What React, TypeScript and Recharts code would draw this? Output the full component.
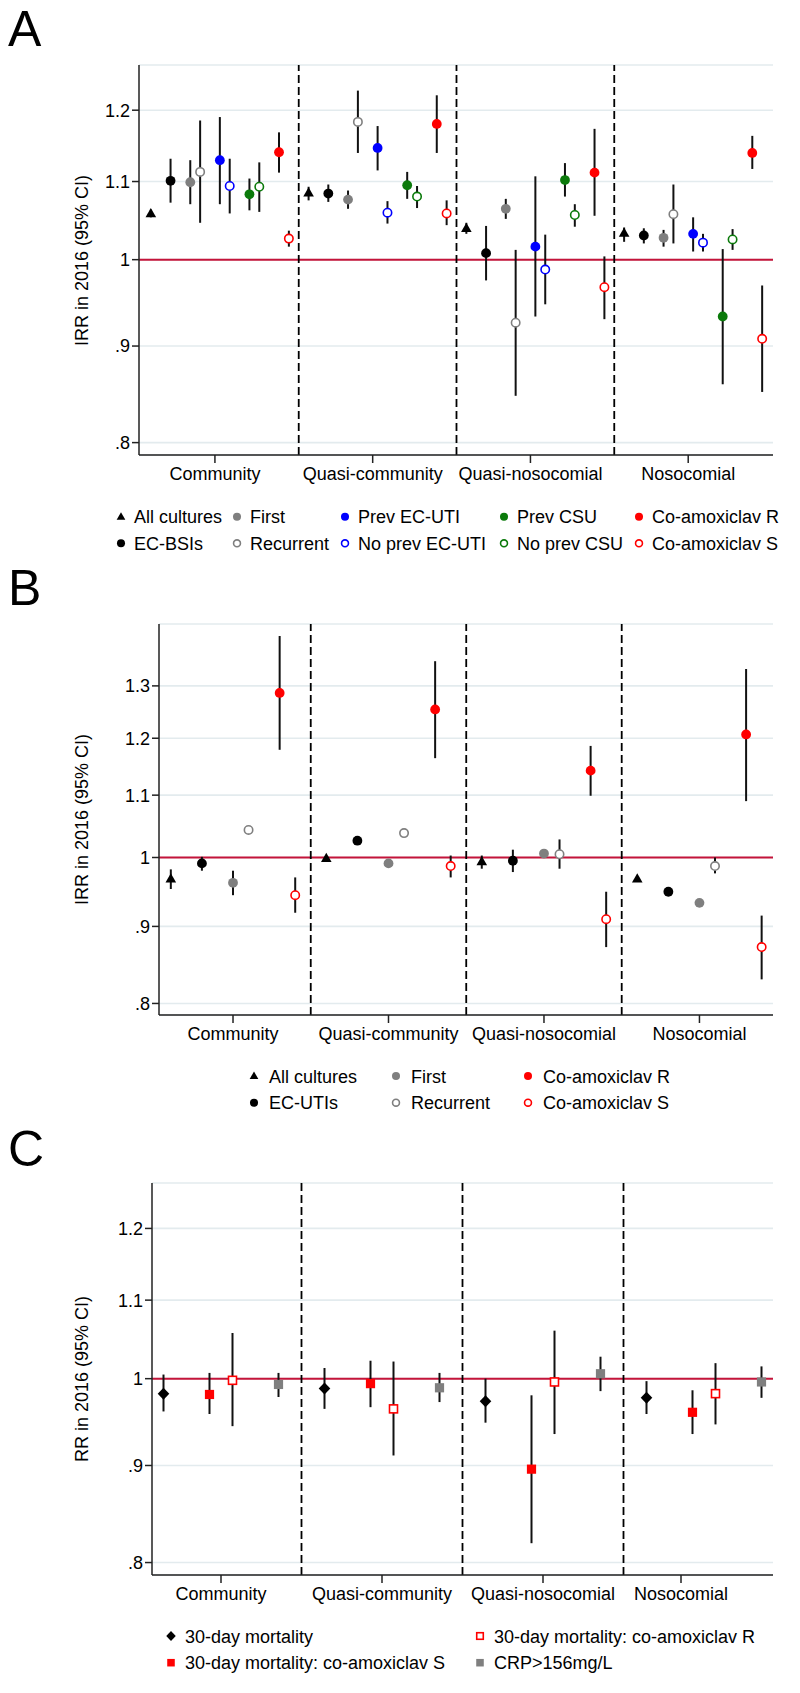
import React from "react";
import {
  ScatterChart, Scatter, XAxis, YAxis, CartesianGrid, ReferenceLine, ErrorBar,
} from "recharts";

const groups = ["Community", "Quasi-community", "Quasi-nosocomial", "Nosocomial"];

// each row: [estimate, lower 95% CI, upper 95% CI], one row per group
// Panel A
const aAllCultures = [[1.058, 1.053, 1.063], [1.085, 1.075, 1.093], [1.039, 1.032, 1.046], [1.033, 1.022, 1.040]];
const aEcBsi = [[1.101, 1.072, 1.131], [1.084, 1.073, 1.096], [1.008, 0.975, 1.042], [1.030, 1.020, 1.039]];
const aFirst = [[1.099, 1.070, 1.129], [1.076, 1.064, 1.088], [1.064, 1.051, 1.077], [1.027, 1.016, 1.037]];
const aRecurrent = [[1.113, 1.046, 1.185], [1.183, 1.139, 1.229], [0.926, 0.847, 1.012], [1.057, 1.020, 1.096]];
const aPrevUti = [[1.129, 1.070, 1.190], [1.146, 1.115, 1.177], [1.016, 0.933, 1.107], [1.032, 1.010, 1.053]];
const aNoPrevUti = [[1.094, 1.058, 1.131], [1.059, 1.045, 1.074], [0.988, 0.947, 1.031], [1.021, 1.010, 1.032]];
const aPrevCsu = [[1.083, 1.062, 1.104], [1.095, 1.077, 1.113], [1.102, 1.080, 1.125], [0.933, 0.859, 1.013]];
const aNoPrevCsu = [[1.093, 1.060, 1.126], [1.080, 1.065, 1.094], [1.056, 1.041, 1.070], [1.025, 1.012, 1.038]];
const aCoamoxR = [[1.140, 1.112, 1.168], [1.180, 1.139, 1.222], [1.112, 1.055, 1.173], [1.139, 1.117, 1.163]];
const aCoamoxS = [[1.026, 1.016, 1.036], [1.058, 1.043, 1.075], [0.967, 0.930, 1.004], [0.908, 0.851, 0.969]];

// Panel B
const bAllCultures = [[0.968, 0.953, 0.982], [0.999, 0.996, 1.002], [0.994, 0.983, 1.003], [0.968, 0.965, 0.971]];
const bEcUti = [[0.991, 0.980, 1.001], [1.026, 1.023, 1.029], [0.995, 0.978, 1.012], [0.949, 0.946, 0.952]];
const bFirst = [[0.962, 0.944, 0.980], [0.991, 0.988, 0.994], [1.006, 1.003, 1.009], [0.933, 0.930, 0.936]];
const bRecurrent = [[1.043, 1.040, 1.046], [1.038, 1.035, 1.041], [1.005, 0.983, 1.028], [0.987, 0.976, 1.000]];
const bCoamoxR = [[1.286, 1.179, 1.403], [1.254, 1.164, 1.350], [1.142, 1.099, 1.186], [1.207, 1.090, 1.334]];
const bCoamoxS = [[0.944, 0.919, 0.970], [0.987, 0.970, 1.003], [0.910, 0.872, 0.949], [0.872, 0.830, 0.915]];

// Panel C
const cMortality = [[0.982, 0.961, 1.005], [0.988, 0.964, 1.013], [0.973, 0.948, 1.000], [0.977, 0.958, 0.997]];
const cMortS = [[0.981, 0.958, 1.007], [0.994, 0.966, 1.022], [0.896, 0.819, 0.980], [0.960, 0.935, 0.986]];
const cMortR = [[0.998, 0.944, 1.057], [0.964, 0.911, 1.021], [0.996, 0.935, 1.060], [0.982, 0.946, 1.019]];
const cCrp = [[0.993, 0.978, 1.007], [0.989, 0.972, 1.007], [1.006, 0.985, 1.027], [0.996, 0.977, 1.015]];

const ticksA = [0.8, 0.9, 1, 1.1, 1.2];
const ticksB = [0.8, 0.9, 1, 1.1, 1.2, 1.3];

const FONT = "'Liberation Sans', Arial, Helvetica, sans-serif";
const GREY = "#7f7f7f";
const BLUE = "#0000ff";
const GREEN = "#0b7a0b";
const RED = "#ff0000";
const REFRED = "#c4143a";

type Kind = "triangle" | "dot" | "ring" | "diamond" | "square" | "box";

const seriesA = [
  { name: "All cultures", data: aAllCultures, kind: "triangle", color: "#000", slot: 1 },
  { name: "EC-BSIs", data: aEcBsi, kind: "dot", color: "#000", slot: 3 },
  { name: "First", data: aFirst, kind: "dot", color: GREY, slot: 5 },
  { name: "Recurrent", data: aRecurrent, kind: "ring", color: GREY, slot: 6 },
  { name: "Prev EC-UTI", data: aPrevUti, kind: "dot", color: BLUE, slot: 8 },
  { name: "No prev EC-UTI", data: aNoPrevUti, kind: "ring", color: BLUE, slot: 9 },
  { name: "Prev CSU", data: aPrevCsu, kind: "dot", color: GREEN, slot: 11 },
  { name: "No prev CSU", data: aNoPrevCsu, kind: "ring", color: GREEN, slot: 12 },
  { name: "Co-amoxiclav R", data: aCoamoxR, kind: "dot", color: RED, slot: 14 },
  { name: "Co-amoxiclav S", data: aCoamoxS, kind: "ring", color: RED, slot: 15 },
];

const seriesB = [
  { name: "All cultures", data: bAllCultures, kind: "triangle", color: "#000", slot: 1 },
  { name: "EC-UTIs", data: bEcUti, kind: "dot", color: "#000", slot: 3 },
  { name: "First", data: bFirst, kind: "dot", color: GREY, slot: 5 },
  { name: "Recurrent", data: bRecurrent, kind: "ring", color: GREY, slot: 6 },
  { name: "Co-amoxiclav R", data: bCoamoxR, kind: "dot", color: RED, slot: 8 },
  { name: "Co-amoxiclav S", data: bCoamoxS, kind: "ring", color: RED, slot: 9 },
];

const seriesC = [
  { name: "30-day mortality", data: cMortality, kind: "diamond", color: "#000", slot: 0.5 },
  { name: "30-day mortality: co-amoxiclav S", data: cMortS, kind: "square", color: RED, slot: 2.5 },
  { name: "30-day mortality: co-amoxiclav R", data: cMortR, kind: "box", color: RED, slot: 3.5 },
  { name: "CRP>156mg/L", data: cCrp, kind: "square", color: GREY, slot: 5.5 },
];

function Marker({ kind, color, cx, cy, s = 1 }: { kind: Kind; color: string; cx: number; cy: number; s?: number }) {
  switch (kind) {
    case "triangle":
      return <polygon points={`${cx},${cy - 5.5 * s} ${cx - 5.3 * s},${cy + 3.8 * s} ${cx + 5.3 * s},${cy + 3.8 * s}`} fill={color} />;
    case "dot":
      return <circle cx={cx} cy={cy} r={4.9 * s} fill={color} />;
    case "ring":
      return <circle cx={cx} cy={cy} r={4.2 * s} fill="#fff" stroke={color} strokeWidth={1.6} />;
    case "diamond":
      return <polygon points={`${cx},${cy - 6 * s} ${cx + 5.8 * s},${cy} ${cx},${cy + 6 * s} ${cx - 5.8 * s},${cy}`} fill={color} />;
    case "square":
      return <rect x={cx - 4.6 * s} y={cy - 4.6 * s} width={9.2 * s} height={9.2 * s} fill={color} />;
    default:
      return <rect x={cx - 4 * s} y={cy - 4 * s} width={8 * s} height={8 * s} fill="#fff" stroke={color} strokeWidth={1.6} />;
  }
}

const toPoints = (rows: number[][], slot: number, width: number) =>
  rows.map(([y, lo, hi], g) => ({ x: g * width + slot, y, err: [y - lo, hi - y] }));

const fmtY = (v: number) => (v < 1 ? String(v).replace(/^0/, "") : String(v));

type PanelProps = {
  top: number;
  yWidth: number;
  marginTop: number;
  series: any[];
  groupWidth: number;
  xDomain: [number, number];
  xTicks: number[];
  dividers: number[];
  yDomain: [number, number];
  yTicks: number[];
};

function Panel(p: PanelProps) {
  return (
    <div style={{ position: "absolute", left: 0, top: p.top }}>
      <ScatterChart width={800} height={500} margin={{ top: p.marginTop, right: 27, bottom: 15, left: 0 }}>
        <CartesianGrid horizontal vertical={false} stroke="#e3ebee" strokeWidth={1.6} />
        <XAxis type="number" dataKey="x" domain={p.xDomain} allowDataOverflow ticks={p.xTicks} interval={0}
          tickFormatter={(_v: number, i: number) => groups[i]} height={30} tickSize={8} tickMargin={4}
          stroke="#222" strokeWidth={1.5} tick={{ fill: "#000", fontSize: 18, fontFamily: FONT }} />
        <YAxis type="number" dataKey="y" scale="log" domain={p.yDomain} allowDataOverflow ticks={p.yTicks}
          interval={0} tickFormatter={fmtY} width={p.yWidth} tickSize={7} tickMargin={2}
          stroke="#222" strokeWidth={1.5} tick={{ fill: "#000", fontSize: 18, fontFamily: FONT }} />
        <ReferenceLine y={1} stroke={REFRED} strokeWidth={2} />
        {p.dividers.map((d) => (
          <ReferenceLine key={d} x={d} stroke="#000" strokeWidth={1.8} strokeDasharray="8 4" />
        ))}
        {p.series.map((s) => (
          <Scatter key={s.name} name={s.name} data={toPoints(s.data, s.slot, p.groupWidth)}
            isAnimationActive={false}
            shape={(props: any) => <Marker kind={s.kind} color={s.color} cx={props.cx} cy={props.cy} />}>
            <ErrorBar dataKey="err" direction="y" width={0} stroke="#111" strokeWidth={2} />
          </Scatter>
        ))}
      </ScatterChart>
    </div>
  );
}

function Legend({ series, cols, rows, gap }: { series: any[]; cols: number[]; rows: number[]; gap: number }) {
  return (
    <g>
      {series.map((s, i) => {
        const x = cols[Math.floor(i / 2)];
        const y = rows[i % 2];
        return (
          <g key={s.name}>
            <Marker kind={s.kind} color={s.color} cx={x} cy={y} s={0.82} />
            <text x={x + gap} y={y + 6.5} fontSize={18} fontFamily={FONT} fill="#000">{s.name}</text>
          </g>
        );
      })}
    </g>
  );
}

function YTitle({ x, y, text }: { x: number; y: number; text: string }) {
  return (
    <text x={x} y={y} transform={`rotate(-90 ${x} ${y})`} textAnchor="middle" fontSize={18} fontFamily={FONT} fill="#000">
      {text}
    </text>
  );
}

export default function App() {
  return (
    <div style={{ position: "absolute", left: 0, top: 0, width: 800, height: 1693, background: "#fff", fontFamily: FONT }}>
      <Panel top={0} marginTop={65} yWidth={139} series={seriesA} groupWidth={16}
        xDomain={[-0.2, 64.1]} xTicks={[7.5, 23.5, 39.5, 55.5]} dividers={[16, 32, 48]}
        yDomain={[0.788, 1.268]} yTicks={ticksA} />
      <Panel top={560} marginTop={64} yWidth={159} series={seriesB} groupWidth={10}
        xDomain={[0.24, 39.73]} xTicks={[5, 15, 25, 35]} dividers={[10, 20, 30]}
        yDomain={[0.786, 1.429]} yTicks={ticksB} />
      <Panel top={1120} marginTop={63} yWidth={152} series={seriesC} groupWidth={7}
        xDomain={[0, 27]} xTicks={[3, 10, 17, 23]} dividers={[6.5, 13.5, 20.5]}
        yDomain={[0.788, 1.268]} yTicks={ticksA} />
      <svg width={800} height={1693} style={{ position: "absolute", left: 0, top: 0, pointerEvents: "none" }}>
        <text x={8} y={46} fontSize={50} fontFamily={FONT}>A</text>
        <text x={8} y={605} fontSize={50} fontFamily={FONT}>B</text>
        <text x={8} y={1166} fontSize={50} fontFamily={FONT}>C</text>
        <YTitle x={88} y={260.5} text="IRR in 2016 (95% CI)" />
        <YTitle x={88} y={819.5} text="IRR in 2016 (95% CI)" />
        <YTitle x={88} y={1379} text="RR in 2016 (95% CI)" />
        <Legend series={seriesA} cols={[121, 237, 345, 504, 639]} rows={[516.7, 543.3]} gap={13} />
        <Legend series={seriesB} cols={[254, 396, 528]} rows={[1076, 1102.7]} gap={15} />
        <Legend series={seriesC} cols={[171, 480]} rows={[1636, 1662.7]} gap={14} />
      </svg>
    </div>
  );
}
